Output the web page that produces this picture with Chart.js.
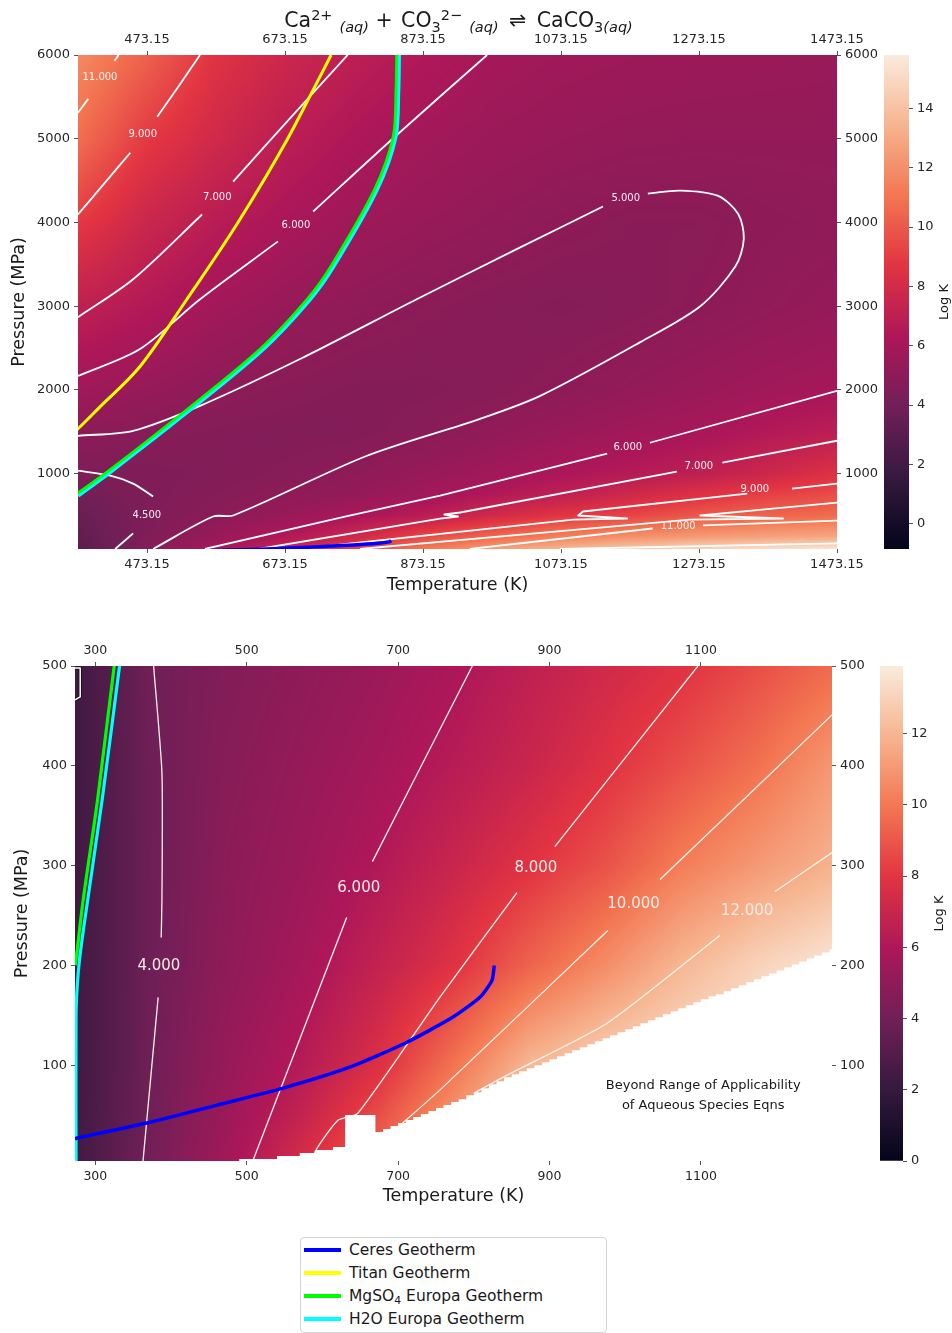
<!DOCTYPE html>
<html>
<head>
<meta charset="utf-8">
<script src="https://cdn.jsdelivr.net/npm/chart.js@4.4.1/dist/chart.umd.min.js"></script>
<style>
html,body{margin:0;padding:0;background:#fff;}
#wrap{position:relative;width:952px;height:1333px;overflow:hidden;background:#fff;font-family:"DejaVu Sans",sans-serif;}
canvas{position:absolute;}
#legend{position:absolute;left:300px;top:1237px;width:307px;height:96px;box-sizing:border-box;border:1px solid #d4d4d4;border-radius:4px;background:#fff;}
.lrow{position:absolute;left:0;height:22px;width:100%;}
.lline{position:absolute;left:3px;top:9px;width:37px;height:4px;}
.ltext{position:absolute;left:48px;top:0;line-height:22px;font-size:15.5px;color:#1a1a1a;white-space:nowrap;}
.ltext sub{font-size:0.7em;vertical-align:-0.25em;line-height:0;}
</style>
</head>
<body>
<div id="wrap">
  <canvas id="topChart" width="884" height="600" style="left:0;top:0"></canvas>
  <canvas id="topBar" width="68" height="600" style="left:884px;top:0"></canvas>
  <canvas id="botChart" width="880" height="605" style="left:0;top:610px"></canvas>
  <canvas id="botBar" width="72" height="605" style="left:880px;top:610px"></canvas>
  <div id="legend"></div>
</div>
<script>
// ===================== DATA =====================
const topTemps = [373.15, 473.15, 573.15, 673.15, 773.15, 873.15, 973.15, 1073.15, 1173.15, 1273.15, 1373.15, 1473.15];
const topPressures = [100, 250, 500, 750, 1000, 1500, 2000, 3000, 4000, 5000, 6000];
const topLogK = [
  [3.0, 4.8, 6.0, 7.5, 9.2, 11.2, 12.5, 13.5, 14.2, 14.8, 15.2, 15.5],
  [3.3, 4.5, 5.5, 6.4, 7.7, 9.4, 10.5, 11.4, 12.0, 12.4, 12.7, 12.9],
  [3.6, 4.45, 4.9, 5.5, 6.1, 6.8, 7.9, 8.7, 9.3, 10.0, 10.4, 10.7],
  [4.0, 4.45, 4.75, 5.0, 5.35, 5.8, 6.45, 7.05, 7.8, 8.5, 9.15, 9.6],
  [4.5, 4.45, 4.6, 4.8, 5.05, 5.45, 5.8, 6.25, 6.6, 7.05, 7.7, 8.5],
  [5.0, 4.85, 4.7, 4.6, 4.65, 4.85, 5.2, 5.5, 5.8, 6.05, 6.5, 6.9],
  [5.8, 5.4, 5.05, 4.85, 4.7, 4.7, 4.8, 5.02, 5.3, 5.55, 5.8, 6.0],
  [7.1, 6.5, 5.85, 5.45, 5.15, 4.95, 4.8, 4.7, 4.8, 5.0, 5.2, 5.4],
  [8.9, 7.6, 6.75, 6.15, 5.7, 5.45, 5.25, 5.05, 4.9, 4.9, 5.05, 5.15],
  [10.8, 8.9, 7.85, 6.9, 6.3, 5.85, 5.6, 5.45, 5.35, 5.3, 5.3, 5.3],
  [11.8, 10.3, 8.6, 7.7, 6.95, 6.45, 5.95, 5.75, 5.65, 5.6, 5.55, 5.5]
];
const topLogKRange = [-0.85, 15.8];
const topTempTicks = [473.15, 673.15, 873.15, 1073.15, 1273.15, 1473.15];
const topPressTicks = [1000, 2000, 3000, 4000, 5000, 6000];
const topBarTicks = [0, 2, 4, 6, 8, 10, 12, 14];

// Top panel contour lines [T (K), P (MPa)]
const topC11a = [[373.15,5310],[388,5476]];
const topC11b = [[426,5930],[432,6000]];
const topC9a = [[373.15,4095],[411,4464],[449,4833]];
const topC9b = [[488,5262],[520,5640],[550,6000]];
const topC7a = [[373.15,2869],[453,3321],[553,4095]];
const topC7b = [[598,4488],[681,5250],[764,6000]];
const topC6a = [[373.15,2167],[463,2488],[550,3083],[663,3774]];
const topC6b = [[714,4131],[834,5036],[966,6000]];
const topC5a = [[373.15,1452],[453,1512],[550,1810],[695,2369],[864,3083],[1014,3702],[1134,4190]];
const topC5b = [[1199,4345],[1246,4381],[1300,4320],[1330,4100],[1338,3800],[1326,3476],[1275,3000],[1188,2571],[1043,1929],[956,1655],[792,1214],[598,500],[569,488],[482,100]];
const topC45a = [[373.15,1036],[420,976],[453,881],[482,726]];
const topC45b = [[453,286],[427,100]];
const topC6La = [[557,100],[760,488],[898,738],[1140,1238]];
const topC6Lb = [[1202,1369],[1473.15,1988]];
const topC7La = [[635,100],[898,464],[924,488],[904,512],[927,536],[1241,1024]];
const topC7Lb = [[1307,1131],[1473.15,1393]];
const topC9La = [[695,100],[1091,452],[1169,464],[1098,500],[1105,548],[1343,762]];
const topC9Lb = [[1408,821],[1473.15,881]];
const topC10L = [[782,100],[1260,452],[1395,464],[1275,500],[1380,583],[1473.15,655]];
const topC11La = [[941,100],[1206,345]];
const topC11Lb = [[1279,381],[1473.15,440]];
const topC13L = [[1072,100],[1473.15,167]];
const topContourLabels = [['11.000',405,5738],['9.000',467,5048],['7.000',575,4298],['6.000',689,3964],['5.000',1167,4286],['4.500',473,500],['6.000',1170,1310],['7.000',1273,1083],['9.000',1354,810],['11.000',1243,369]];

// Bottom panel
const botTemps = [273.15, 373.15, 473.15, 573.15, 673.15, 773.15, 873.15, 973.15, 1073.15, 1173.15, 1273.15];
const botPressures = [4, 50, 100, 200, 300, 400, 500];
const botLogK = [
  [2.4, 4.1, 5.6, 7.5, 9.5, 11.5, 13.0, 13.6, 13.8, 13.9, 13.9],
  [2.35, 4.0, 5.4, 6.8, 8.7, 10.9, 12.8, 13.5, 13.8, 13.9, 13.9],
  [2.3, 3.95, 5.25, 6.25, 7.7, 9.85, 12.05, 13.0, 13.5, 13.8, 13.9],
  [2.3, 3.9, 4.95, 5.7, 6.75, 7.85, 9.35, 10.65, 12.0, 13.0, 13.7],
  [2.3, 3.85, 4.85, 5.4, 6.1, 7.0, 7.9, 8.85, 10.15, 11.05, 11.85],
  [2.3, 3.9, 4.7, 5.2, 5.7, 6.3, 7.0, 7.85, 8.8, 9.75, 11.0],
  [2.3, 3.95, 4.55, 4.95, 5.4, 5.9, 6.6, 7.25, 7.85, 8.7, 9.6]
];
const botLogKRange = [0, 13.9];
const botTempTicks = [300, 500, 700, 900, 1100];
const botPressTicks = [100, 200, 300, 400, 500];
const botBarTicks = [0, 2, 4, 6, 8, 10, 12];

const botC4a = [[377,500],[388,393],[388,266],[387,228]];
const botC4b = [[383,168],[363,4]];
const botC6a = [[798,500],[666,304]];
const botC6b = [[632,248],[508,4]];
const botC8a = [[1096,500],[907,319]];
const botC8b = [[857,273],[755,168],[647,52],[621,45],[593,17],[585,4]];
const botC10a = [[1273.15,451],[1046,286]];
const botC10b = [[977,235],[755,75],[700,38]];
const botC12a = [[1273.15,313],[1198,274]];
const botC12b = [[1125,230],[976,142],[844,90],[800,72]];
const botCorner = [[273.15,498],[280,498],[280,469],[273.15,466]];
const botContourLabels = [['4.000',384,199],['6.000',648,277],['8.000',882,297],['10.000',1011,261],['12.000',1161,254]];

// Limit of applicability (white region below this stepped boundary)
const applicabilityT = [490, 540, 570, 590, 614, 630, 670, 680, 690, 700, 710, 720, 730, 740, 750, 760, 770, 780, 790, 800, 810, 820, 830, 840, 850, 860, 870, 880, 890, 900, 910, 920, 930, 940, 950, 960, 970, 980, 990, 1000, 1010, 1020, 1030, 1040, 1050, 1060, 1070, 1080, 1090, 1100, 1110, 1120, 1130, 1140, 1150, 1160, 1170, 1180, 1190, 1200, 1210, 1220, 1230, 1240, 1250, 1260, 1270, 1273.15];
const applicabilityP = [6, 9, 12, 15, 18, 50, 33, 36, 39, 42, 45, 48, 51, 54, 57, 60, 63, 66, 70, 73, 77, 81, 84, 88, 91, 94, 97, 100, 103, 106, 109, 112, 115, 118, 121, 124, 127, 130, 133, 136, 139, 142, 145, 148, 151, 154, 157, 160, 163, 166, 169, 171, 174, 177, 180, 183, 186, 189, 192, 195, 198, 201, 204, 207, 210, 213, 216, 217];

// Geotherms [T (K), P (MPa)]
const ceresGeotherm = [[273.15,26],[276,27],[368,42],[461,60],[548,77],[636,98],[709,122],[772,148],[808,168],[824,185],[827,200]];
const titanGeotherm = [[360,1440],[373.15,1536],[405,1798],[463,2280],[531,3083],[605,4000],[677,5000],[714,5583],[740,6000]];
const mgso4Geotherm = [[273.5,200],[276,215],[284,266],[303,366],[325,500],[369,745],[417,1030],[528,1745],[638,2495],[706,3090],[740,3480],[803,4395],[830,5025],[834,5583],[835,6000]];
const h2oGeotherm = [[274.5,4],[274.5,150],[276,178],[279,205],[286,245],[309,366],[332,500],[373,740],[420,1024],[531,1738],[641,2488],[709,3083],[743,3476],[806,4393],[833,5024],[837,5583],[838,6000]];

const geotherms = [
  {label:'Ceres Geotherm', color:'#0000ff', data:ceresGeotherm},
  {label:'Titan Geotherm', color:'#ffff00', data:titanGeotherm},
  {label:'MgSO\u2084 Europa Geotherm', color:'#00ff00', data:mgso4Geotherm},
  {label:'H2O Europa Geotherm', color:'#00ffff', data:h2oGeotherm}
];

// ===================== STYLE / HELPERS =====================
const FONT = '"DejaVu Sans", sans-serif';
Chart.defaults.font.family = FONT;
Chart.defaults.color = '#1a1a1a';
Chart.defaults.animation = false;

const rocketStops = [[0,[3,5,26]],[1/7,[53,25,62]],[2/7,[112,31,87]],[3/7,[173,23,89]],[4/7,[225,51,66]],[5/7,[243,118,81]],[6/7,[246,180,143]],[1,[250,235,221]]];
const LUT = (() => {
  const n = 1024, out = [];
  for (let i = 0; i < n; i++) {
    const t = i / (n - 1);
    let k = 0;
    while (k < rocketStops.length - 2 && t > rocketStops[k + 1][0]) k++;
    const [t0, c0] = rocketStops[k], [t1, c1] = rocketStops[k + 1];
    const f = (t - t0) / (t1 - t0);
    out.push([0, 1, 2].map(j => Math.round(c0[j] + (c1[j] - c0[j]) * f)));
  }
  return out;
})();
function rocket(t) { t = Math.max(0, Math.min(1, t)); return LUT[Math.round(t * (LUT.length - 1))]; }
function seg(arr, v) { let k = 0; while (k < arr.length - 2 && v > arr[k + 1]) k++; return k; }
const clamp01 = v => Math.max(0, Math.min(1, v));

function makeHeatmapPlugin(xs, ys, z, range) {
  return {
    id: 'heatmap',
    beforeDatasetsDraw(chart) {
      const a = chart.chartArea, sx = chart.scales.x, sy = chart.scales.y;
      const x0 = Math.round(a.left), y0 = Math.round(a.top);
      const w = Math.round(a.right) - x0, h = Math.round(a.bottom) - y0;
      const off = document.createElement('canvas'); off.width = w; off.height = h;
      const octx = off.getContext('2d');
      const img = octx.createImageData(w, h), d = img.data;
      const colI = [], colT = [];
      for (let i = 0; i < w; i++) {
        const T = sx.getValueForPixel(x0 + i + 0.5), k = seg(xs, T);
        colI.push(k); colT.push(clamp01((T - xs[k]) / (xs[k + 1] - xs[k])));
      }
      const [vmin, vmax] = range;
      for (let j = 0; j < h; j++) {
        const P = sy.getValueForPixel(y0 + j + 0.5), r = seg(ys, P);
        const ty = clamp01((P - ys[r]) / (ys[r + 1] - ys[r]));
        const z0 = z[r], z1 = z[r + 1];
        for (let i = 0; i < w; i++) {
          const k = colI[i], tx = colT[i];
          const v = (z0[k] * (1 - tx) + z0[k + 1] * tx) * (1 - ty) + (z1[k] * (1 - tx) + z1[k + 1] * tx) * ty;
          const c = rocket((v - vmin) / (vmax - vmin));
          const p = (j * w + i) * 4;
          d[p] = c[0]; d[p + 1] = c[1]; d[p + 2] = c[2]; d[p + 3] = 255;
        }
      }
      octx.putImageData(img, 0, 0);
      chart.ctx.drawImage(off, x0, y0);
    }
  };
}

function makeLabelPlugin(labels, font, color) {
  return {
    id: 'contourLabels',
    afterDatasetsDraw(chart) {
      const {ctx, chartArea: a, scales: {x, y}} = chart;
      ctx.save();
      ctx.beginPath(); ctx.rect(a.left, a.top, a.right - a.left, a.bottom - a.top); ctx.clip();
      ctx.font = font; ctx.fillStyle = color; ctx.textAlign = 'center'; ctx.textBaseline = 'middle';
      labels.forEach(([txt, T, P]) => ctx.fillText(txt, x.getPixelForValue(T), y.getPixelForValue(P)));
      ctx.restore();
    }
  };
}

function lineDS(pts, color, width, order, tension, monotone) {
  const ds = {
    data: pts.map(([x, y]) => ({x, y})), showLine: true, borderColor: color, borderWidth: width,
    pointRadius: 0, pointHoverRadius: 0, fill: false, tension: tension === undefined ? 0.3 : tension,
    order: order, clip: 0, borderCapStyle: 'butt', borderJoinStyle: 'round'
  };
  if (monotone) ds.cubicInterpolationMode = 'monotone';
  return ds;
}

function axis(pos, min, max, ticks, fmt, fontSize, size, title, titlePad, tickPad) {
  const horiz = pos === 'top' || pos === 'bottom';
  return {
    type: 'linear', position: pos, min: min, max: max,
    afterBuildTicks: s => { s.ticks = ticks.map(v => ({value: v})); },
    afterFit: s => { if (horiz) s.height = size; else s.width = size; },
    ticks: {callback: v => fmt(v), font: {size: fontSize}, color: '#262626', padding: tickPad, maxRotation: 0, minRotation: 0, autoSkip: false},
    grid: {drawOnChartArea: false, drawTicks: true, tickLength: 4, color: '#555', lineWidth: 1},
    border: {display: false},
    title: title ? {display: true, text: title, font: {size: 17.5}, color: '#1a1a1a', padding: titlePad} : {display: false}
  };
}

function mainChart(id, datasets, xr, yr, xt, yt, xfmt, sizes, plugins, fs) {
  return new Chart(document.getElementById(id), {
    type: 'scatter',
    data: {datasets: datasets},
    options: {
      responsive: false, animation: false, devicePixelRatio: 1, events: [],
      layout: {padding: 0},
      plugins: {legend: {display: false}, tooltip: {enabled: false}},
      scales: {
        x: axis('bottom', xr[0], xr[1], xt, xfmt, fs.x, sizes.bottom, 'Temperature (K)', {top: 0, bottom: sizes.xTitlePad}, sizes.xTickPadB),
        xTop: axis('top', xr[0], xr[1], xt, xfmt, fs.x, sizes.top, null, null, sizes.xTickPadT),
        y: axis('left', yr[0], yr[1], yt, v => String(v), fs.y, sizes.left, 'Pressure (MPa)', {top: sizes.yTitlePad, bottom: 0}, 4),
        yRight: axis('right', yr[0], yr[1], yt, v => String(v), fs.y, sizes.right, null, null, 4)
      }
    },
    plugins: plugins
  });
}

function colorbar(id, range, ticks, padTop, padBottom, axisW, labelX) {
  const [vmin, vmax] = range;
  return new Chart(document.getElementById(id), {
    type: 'bar',
    data: {labels: ['Log K'], datasets: [{
      data: [[vmin, vmax]], borderWidth: 0, barPercentage: 1, categoryPercentage: 1,
      backgroundColor: ctx => {
        const chart = ctx.chart; if (!chart.chartArea) return 'transparent';
        const sy = chart.scales.y;
        const g = chart.ctx.createLinearGradient(0, sy.getPixelForValue(vmin), 0, sy.getPixelForValue(vmax));
        rocketStops.forEach(([t, c]) => g.addColorStop(t, 'rgb(' + c.join(',') + ')'));
        return g;
      }
    }]},
    options: {
      responsive: false, animation: false, devicePixelRatio: 1, events: [],
      layout: {padding: {top: padTop, bottom: padBottom, left: 0, right: 0}},
      plugins: {legend: {display: false}, tooltip: {enabled: false}},
      scales: {
        x: {display: false},
        y: {position: 'right', min: vmin, max: vmax,
          afterBuildTicks: s => { s.ticks = ticks.map(v => ({value: v})); },
          afterFit: s => { s.width = axisW; },
          ticks: {font: {size: 13}, color: '#262626', padding: 4},
          grid: {drawOnChartArea: false, drawTicks: true, tickLength: 4, color: '#555'},
          border: {display: false}}
      }
    },
    plugins: [{
      id: 'cbTitle',
      afterDraw(chart) {
        const {ctx, chartArea: a} = chart;
        ctx.save(); ctx.translate(labelX, (a.top + a.bottom) / 2); ctx.rotate(-Math.PI / 2);
        ctx.font = '13px ' + FONT; ctx.fillStyle = '#1a1a1a'; ctx.textAlign = 'center'; ctx.textBaseline = 'middle';
        ctx.fillText('Log K', 0, 0); ctx.restore();
      }
    }]
  });
}

// ===================== TOP CHART =====================
const titleSegs = [
  {t: 'Ca', s: 20.5}, {t: '2+', s: 14.5, dy: -7}, {gap: 7}, {t: '(aq)', s: 14.5, dy: 5, it: true},
  {t: ' + ', s: 20.5}, {gap: 2}, {t: 'CO', s: 20.5}, {t: '3', s: 14.5, dy: 5}, {t: '2\u2212', s: 14.5, dy: -7},
  {gap: 7}, {t: '(aq)', s: 14.5, dy: 5, it: true}, {gap: 4}, {t: ' \u21CC ', s: 20.5}, {gap: 4}, {t: 'CaCO', s: 20.5},
  {t: '3', s: 14.5, dy: 5}, {t: '(aq)', s: 14.5, dy: 5, it: true}
];
const titlePlugin = {
  id: 'richTitle',
  afterDraw(chart) {
    const ctx = chart.ctx; ctx.save();
    const fontOf = g => (g.it ? 'italic ' : '') + g.s + 'px ' + FONT;
    let total = 0;
    titleSegs.forEach(g => { if (g.gap) total += g.gap; else { ctx.font = fontOf(g); total += ctx.measureText(g.t).width; } });
    const a = chart.chartArea;
    let x = (a.left + a.right) / 2 - total / 2 + 1;
    ctx.fillStyle = '#1a1a1a'; ctx.textBaseline = 'alphabetic'; ctx.textAlign = 'left';
    titleSegs.forEach(g => {
      if (g.gap) { x += g.gap; return; }
      ctx.font = fontOf(g); ctx.fillText(g.t, x, 27 + (g.dy || 0)); x += ctx.measureText(g.t).width;
    });
    ctx.restore();
  }
};

const W = '#ffffff';
const topDatasets = [
  ...[topC11a, topC11b, topC9a, topC9b, topC7a, topC7b, topC6a, topC6b, topC5a, topC5b, topC45a, topC45b].map(c => lineDS(c, W, 1.8, 20)),
  ...[topC6La, topC6Lb, topC7La, topC7Lb, topC9La, topC9Lb, topC10L, topC11La, topC11Lb, topC13L].map(c => lineDS(c, W, 1.8, 20, 0)),
  lineDS(h2oGeotherm, '#00ffff', 4.5, 4),
  lineDS(mgso4Geotherm, '#00ff00', 2.8, 3),
  lineDS(titanGeotherm, '#ffff00', 3, 2, 0, true),
  lineDS(ceresGeotherm, '#0000ff', 3.5, 1, 0.2)
];
mainChart('topChart', topDatasets, [373.15, 1473.15], [100, 6000], topTempTicks, topPressTicks,
  v => Number(v).toFixed(2),
  {left: 78, right: 884 - 837, top: 55, bottom: 600 - 549, xTitlePad: 4.5, yTitlePad: 9, xTickPadB: 4, xTickPadT: 4},
  [makeHeatmapPlugin(topTemps, topPressures, topLogK, topLogKRange), makeLabelPlugin(topContourLabels, '10px ' + FONT, 'rgba(255,255,255,0.92)'), titlePlugin],
  {x: 13, y: 13});
colorbar('topBar', topLogKRange, topBarTicks, 55, 51, 68 - 25, 61);

// ===================== BOTTOM CHART =====================
const applicabilityData = applicabilityT.map((t, i) => [t, applicabilityP[i]]);
const maskDS = {
  data: applicabilityData.map(([x, y]) => ({x, y})), showLine: true, stepped: 'before',
  fill: 'start', backgroundColor: '#ffffff', borderColor: 'rgba(0,0,0,0)', borderWidth: 0,
  pointRadius: 0, order: 10, clip: 0
};
const beyondPlugin = {
  id: 'beyondText',
  afterDatasetsDraw(chart) {
    const {ctx, scales: {x, y}} = chart;
    ctx.save(); ctx.font = '13px ' + FONT; ctx.fillStyle = '#1a1a1a'; ctx.textAlign = 'center'; ctx.textBaseline = 'middle';
    ctx.fillText('Beyond Range of Applicability', x.getPixelForValue(1103), y.getPixelForValue(80));
    ctx.fillText('of Aqueous Species Eqns', x.getPixelForValue(1103), y.getPixelForValue(59));
    ctx.restore();
  }
};
const BC = '#fbf2ea';
const botDatasets = [
  ...[botC4a, botC4b, botC6a, botC6b, botC8a, botC8b, botC10a, botC10b, botC12a, botC12b].map(c => lineDS(c, BC, 1.3, 20, 0.2)),
  lineDS(botCorner, '#111111', 3.2, 16, 0),
  lineDS(botCorner, '#ffffff', 1.5, 15, 0),
  maskDS,
  lineDS(h2oGeotherm, '#00ffff', 3.2, 4),
  lineDS(mgso4Geotherm, '#00ff00', 3.2, 3),
  lineDS(titanGeotherm, '#ffff00', 3, 2, 0, true),
  lineDS(ceresGeotherm, '#0000ff', 3.5, 1, 0.2)
];
mainChart('botChart', botDatasets, [273.15, 1273.15], [4, 500], botTempTicks, botPressTicks,
  v => String(v),
  {left: 75, right: 880 - 832, top: 56, bottom: 605 - 551, xTitlePad: 8.5, yTitlePad: 12, xTickPadB: 4, xTickPadT: 4},
  [makeHeatmapPlugin(botTemps, botPressures, botLogK, botLogKRange), makeLabelPlugin(botContourLabels, '15px ' + FONT, '#f6ebe6'), beyondPlugin],
  {x: 12.5, y: 13});
colorbar('botBar', botLogKRange, botBarTicks, 56, 605 - 551, 72 - 23, 60);

// ===================== LEGEND =====================
const legendEl = document.getElementById('legend');
geotherms.forEach((g, i) => {
  const row = document.createElement('div');
  row.className = 'lrow'; row.style.top = (1 + i * 23) + 'px';
  const ln = document.createElement('div'); ln.className = 'lline'; ln.style.background = g.color;
  const tx = document.createElement('div'); tx.className = 'ltext';
  tx.innerHTML = g.label.replace('\u2084', '<sub>4</sub>');
  row.appendChild(ln); row.appendChild(tx); legendEl.appendChild(row);
});
</script>
</body>
</html>
